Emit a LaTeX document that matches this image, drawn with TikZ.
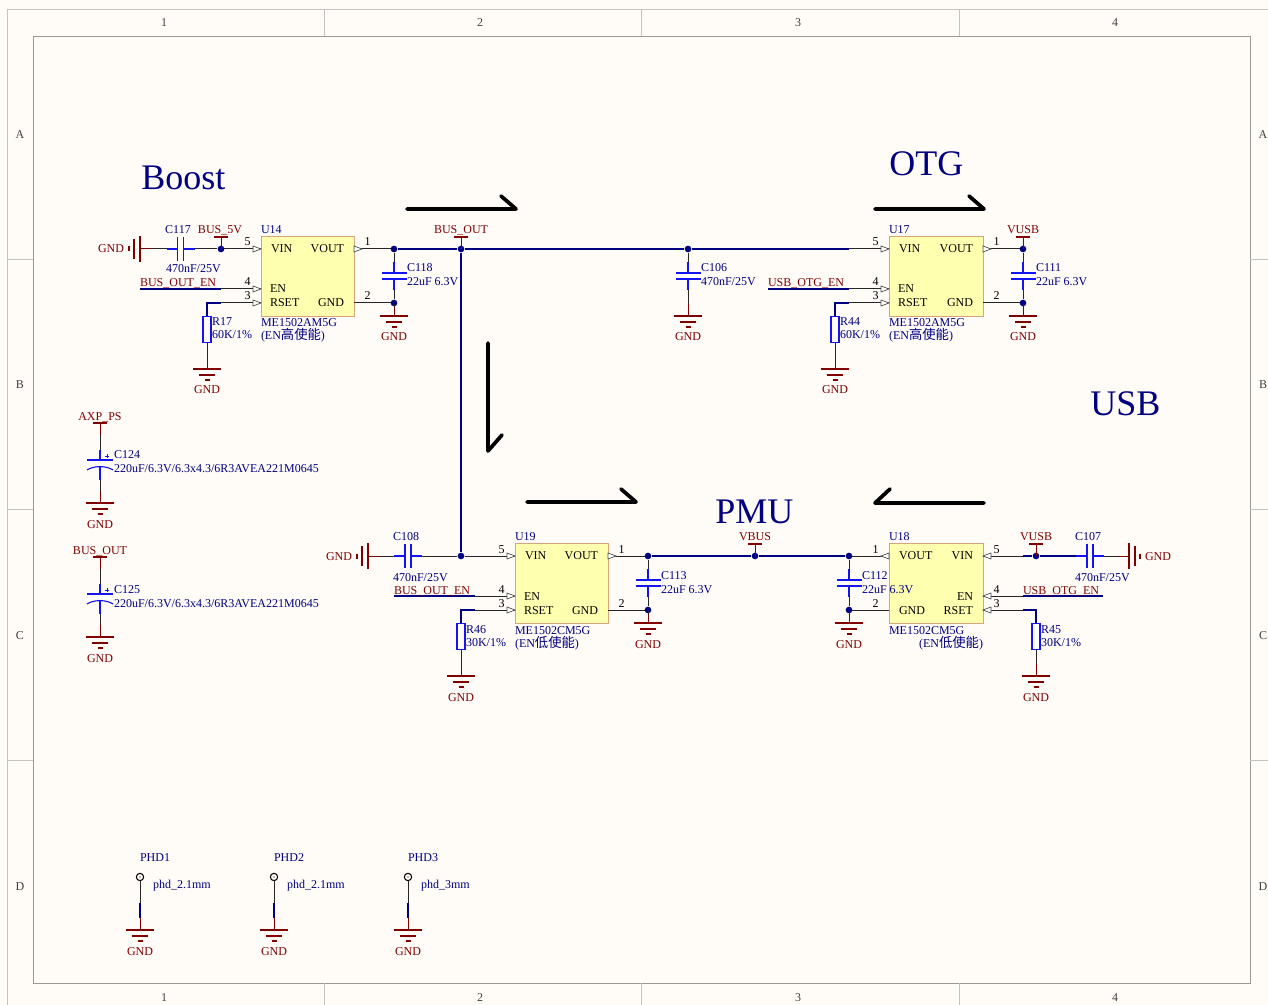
\documentclass[tikz,border=0pt]{standalone}
\usepackage{fontspec}
\setmainfont{Liberation Serif}
\newfontfamily\cjkfont{Noto Sans CJK SC}
\newcommand{\cjktext}[1]{{\fontsize{10pt}{10pt}\cjkfont #1}}
\definecolor{paper}{HTML}{FFFCF8}
\definecolor{navyw}{HTML}{000080}
\definecolor{darkr}{HTML}{800000}
\definecolor{partb}{HTML}{1414F0}
\definecolor{chipf}{HTML}{FFFFB0}
\definecolor{chipd}{HTML}{D8A47C}
\definecolor{framec}{HTML}{989894}
\definecolor{framel}{HTML}{C4C2BE}
\tikzset{
  txt/.style={inner sep=0pt,outer sep=0pt,font=\fontsize{9pt}{10pt}\selectfont},
  lab/.style={txt,anchor=base west},
  labc/.style={txt,anchor=base},
  labe/.style={txt,anchor=base east},
  ref/.style={text=navyw},
  net/.style={text=darkr},
  title/.style={inner sep=0pt,anchor=base west,text=navyw,font=\fontsize{27pt}{30pt}\selectfont},
  edge/.style={inner sep=0pt,anchor=base,text=black!75,font=\fontsize{9pt}{10pt}\selectfont},
  wn/.style={draw=navyw,line width=.85pt},
  wb/.style={draw=black!85,line width=.75pt},
  wr/.style={draw=darkr,line width=.75pt},
  pb/.style={draw=partb,line width=.85pt},
  jdot/.style={circle,fill=navyw,draw=none,inner sep=0pt,minimum size=5pt},
  chipbox/.style={rectangle,draw=chipd,fill=chipf,line width=.7pt,inner sep=0pt},
  resbox/.style={rectangle,draw=partb,line width=.85pt,inner sep=0pt,minimum width=6pt,minimum height=20pt},
  bigarrow/.style={draw=black,line width=2.8pt,line cap=round,line join=round},
  tri/.style={draw=black!70,fill=white,line width=.5pt}
}
% text label
\newcommand{\lbl}[5][lab]{\node[#1,#2] (#3) at #4 {#5};}
% chip pin: name, body x, y, number, side (-1 west, +1 east), triangle (1 in, -1 out, 0 none)
\newcommand{\chippin}[6]{%
  \coordinate (#1) at ({#2+40*(#5)},#3);
  \draw[wb] (#2,#3) -- (#1);
  \ifnum#6=1 \draw[tri] (#2,#3) -- ({#2+8*(#5)},{#3-3}) -- ({#2+8*(#5)},{#3+3}) -- cycle;\fi
  \ifnum#6=-1 \draw[tri] ({#2+8*(#5)},#3) -- (#2,{#3-3}) -- (#2,{#3+3}) -- cycle;\fi
  \node[edge,text=black] (#1-n) at ({#2+13.5*(#5)},{#3-3}) {#4};}
% vertical cap / horizontal cap
\newcommand{\capv}[3]{%
  \coordinate (#1-t) at (#2,{#3-14}); \coordinate (#1-b) at (#2,{#3+14});
  \draw[pb] (#1-t) -- (#2,{#3-3}) (#2,{#3+3}) -- (#1-b);
  \draw[pb] ({#2-12.5},{#3-3}) -- ({#2+12.5},{#3-3}) ({#2-12.5},{#3+3}) -- ({#2+12.5},{#3+3});}
\newcommand{\caph}[3]{%
  \coordinate (#1-l) at ({#2-14},#3); \coordinate (#1-r) at ({#2+14},#3);
  \draw[pb] (#1-l) -- ({#2-3},#3) ({#2+3},#3) -- (#1-r);
  \draw[pb] ({#2-3},{#3-12}) -- ({#2-3},{#3+12}) ({#2+3},{#3-12}) -- ({#2+3},{#3+12});}
% polarised cap: name, x, y of flat plate
\newcommand{\capp}[3]{%
  \coordinate (#1-t) at (#2,{#3-10}); \coordinate (#1-b) at (#2,{#3+20});
  \draw[pb] (#1-t) -- (#2,#3) (#2,{#3+6}) -- (#1-b);
  \draw[pb] ({#2-13},#3) -- ({#2+13},#3);
  \draw[pb] ({#2-13},{#3+10}) .. controls ({#2-6},{#3+5.5}) and ({#2+6},{#3+5.5}) .. ({#2+13},{#3+10});
  \draw[draw=partb,line width=.4pt] ({#2+5},{#3-4}) -- ({#2+9},{#3-4}) ({#2+7},{#3-6}) -- ({#2+7},{#3-2});}
% ground, vertical: name, x, y of big bar
\newcommand{\gndv}[3]{%
  \coordinate (#1) at (#2,{#3-12});
  \draw[wr] (#1) -- (#2,#3);
  \draw[wr,line width=.9pt] ({#2-14},#3) -- ({#2+14},#3) ({#2-8},{#3+6}) -- ({#2+8},{#3+6}) ({#2-2.5},{#3+11}) -- ({#2+2.5},{#3+11});
  \node[labc,net] (#1-l) at (#2,{#3+25}) {GND};}
% ground, horizontal: name, x of big bar, y, direction of the small bars
\newcommand{\gndh}[4]{%
  \coordinate (#1) at ({#2-12*(#4)},#3);
  \draw[wr] (#1) -- (#2,#3);
  \draw[wr,line width=.9pt] (#2,{#3-13}) -- (#2,{#3+13}) ({#2+6*(#4)},{#3-10}) -- ({#2+6*(#4)},{#3+10}) ({#2+11*(#4)},{#3-2.5}) -- ({#2+11*(#4)},{#3+2.5});}
% power port: name, x, y of bar
\newcommand{\portv}[3]{%
  \coordinate (#1) at (#2,{#3+12});
  \draw[wr] (#1) -- (#2,#3);
  \draw[wr,line width=.9pt] ({#2-7},#3) -- ({#2+7},#3);}
\begin{document}
\begin{tikzpicture}[x=.75pt,y=-.75pt]
\useasboundingbox (0,0) rectangle (1268,1005);
\fill[paper] (0,0) rectangle (1268,1005);
% sheet frame
\draw[framel,line width=.7pt] (7,1005) -- (7,9) -- (1268,9);
\draw[framec,line width=.7pt] (33,36) rectangle (1250,983);
\foreach \x in {324,641,959} {\draw[framel,line width=.7pt] (\x,9) -- (\x,36) (\x,983) -- (\x,1005);}
\foreach \y in {259,509,760} {\draw[framel,line width=.7pt] (7,\y) -- (33,\y) (1250,\y) -- (1268,\y);}
\foreach \x/\n in {164/1,480/2,798/3,1115/4} {
  \node[edge] (top\n) at (\x,27) {\n};
  \node[edge] (bot\n) at (\x,1001) {\n};}
\foreach \y/\n in {139/A,389/B,639/C,890/D} {
  \node[edge] (lft\n) at (20,\y) {\n};
  \node[edge] (rgt\n) at (1263,\y) {\n};}
% titles
\node[title] (tBoost) at (141,190) {Boost};
\node[title] (tOTG) at (889,176) {OTG};
\node[title] (tUSB) at (1090,416) {USB};
\node[title] (tPMU) at (715,523) {PMU};
% flow arrows
\draw[bigarrow] (407,209) -- (516,209) -- (501,196);
\draw[bigarrow] (875,209) -- (984,209) -- (969,196);
\draw[bigarrow] (488,343) -- (488,451) -- (502,435);
\draw[bigarrow] (527,502) -- (636,502) -- (621,489);
\draw[bigarrow] (984,503) -- (875,503) -- (890,489);
% chips
\node[chipbox,minimum width=69.75pt,minimum height=60pt] (U14) at (307.5,276) {};
\node[chipbox,minimum width=70.5pt,minimum height=60pt] (U17) at (936,276) {};
\node[chipbox,minimum width=69.75pt,minimum height=60pt] (U19) at (561.5,583) {};
\node[chipbox,minimum width=70.5pt,minimum height=60pt] (U18) at (936,583) {};
% pins
\chippin{u14vin}{261}{249}{5}{-1}{1}
\chippin{u14en}{261}{289}{4}{-1}{1}
\chippin{u14rs}{261}{303}{3}{-1}{1}
\chippin{u14out}{354}{249}{1}{1}{-1}
\chippin{u14gnd}{354}{303}{2}{1}{0}
\chippin{u17vin}{889}{249}{5}{-1}{1}
\chippin{u17en}{889}{289}{4}{-1}{1}
\chippin{u17rs}{889}{303}{3}{-1}{1}
\chippin{u17out}{983}{249}{1}{1}{-1}
\chippin{u17gnd}{983}{303}{2}{1}{0}
\chippin{u19vin}{515}{556}{5}{-1}{1}
\chippin{u19en}{515}{596}{4}{-1}{1}
\chippin{u19rs}{515}{610}{3}{-1}{1}
\chippin{u19out}{608}{556}{1}{1}{-1}
\chippin{u19gnd}{608}{610}{2}{1}{0}
\chippin{u18out}{889}{556}{1}{-1}{-1}
\chippin{u18gnd}{889}{610}{2}{-1}{0}
\chippin{u18vin}{983}{556}{5}{1}{1}
\chippin{u18en}{983}{596}{4}{1}{1}
\chippin{u18rs}{983}{610}{3}{1}{1}
% junctions
\foreach \n/\p in {j5v/{221,249},j1/{394,249},jbo/{461,249},j106/{688,249},jusb/{1023,249},j1g/{394,303},jug/{1023,303},
  j19/{461,556},j113/{648,556},jvb/{755,556},j112/{849,556},j113g/{648,610},j112g/{849,610},jvu/{1036,556}}
  {\node[jdot] (\n) at (\p) {};}
% parts
\caph{c117}{180.5}{249}
\capv{c118}{394}{276}
\capv{c106}{688}{276}
\capv{c111}{1023}{276}
\caph{c108}{408}{556}
\capv{c113}{648}{583}
\capv{c112}{849}{583}
\caph{c107}{1090}{556}
\capp{c124}{100}{460}
\capp{c125}{100}{594}
\node[resbox] (r17) at (207,329.5) {};
\node[resbox] (r44) at (835,329.5) {};
\node[resbox] (r46) at (461,636.5) {};
\node[resbox] (r45) at (1036,636.5) {};
% grounds
\gndh{g117}{140}{249}{-1}
\gndh{g108}{368}{556}{-1}
\gndh{g107}{1129}{556}{1}
\gndv{g118}{394}{316}
\gndv{g106}{688}{316}
\gndv{g111}{1023}{316}
\gndv{g17}{207}{369}
\gndv{g44}{835}{369}
\gndv{g113}{648}{623}
\gndv{g112}{849}{623}
\gndv{g46}{461}{676}
\gndv{g45}{1036}{676}
\gndv{g124}{100}{503}
\gndv{g125}{100}{637}
% ports
\portv{p5v}{221}{237}
\portv{pbo}{461}{237}
\portv{pvusb}{1023}{237}
\portv{pvbus}{755}{544}
\portv{pvu}{1036}{544}
\portv{paxp}{100}{423}
\portv{pbo2}{100}{557}
% free ends of the enable nets
\coordinate (enA) at (140,289);
\coordinate (enB) at (768,289);
\coordinate (enC) at (394,596);
\coordinate (enD) at (1103,596);
% wires
\draw[wb] (g117) -- (c117-l);
\draw[wb] (c117-r) -- (j5v);
\draw[wn] (enA) -- (u14en);
\draw[wn] (u14rs) -| (r17.north);
\draw[wb] (r17.south) -- (g17);
\draw[wn] (j1) -- (jbo);
\draw[wn] (jbo) -- (j106);
\draw[wn] (j106) -- (u17vin);
\draw[wn] (jbo) -- (j19);
\draw[wb] (j1) -- (c118-t);
\draw[wb] (c118-b) -- (j1g);
\draw[wb] (j1g) -- (g118);
\draw[wb] (j106) -- (c106-t);
\draw[wb] (c106-b) -- (g106);
\draw[wn] (enB) -- (u17en);
\draw[wn] (u17rs) -| (r44.north);
\draw[wb] (r44.south) -- (g44);
\draw[wb] (jusb) -- (c111-t);
\draw[wb] (c111-b) -- (jug);
\draw[wb] (jug) -- (g111);
\draw[wb] (g108) -- (c108-l);
\draw[wb] (c108-r) -- (j19);
\draw[wb] (j19) -- (u19vin);
\draw[wn] (enC) -- (u19en);
\draw[wn] (u19rs) -| (r46.north);
\draw[wb] (r46.south) -- (g46);
\draw[wn] (j113) -- (jvb);
\draw[wn] (jvb) -- (j112);
\draw[wb] (j113) -- (c113-t);
\draw[wb] (c113-b) -- (j113g);
\draw[wb] (j113g) -- (g113);
\draw[wb] (j112) -- (c112-t);
\draw[wb] (c112-b) -- (j112g);
\draw[wb] (j112g) -- (g112);
\draw[wn] (u18vin) -- (jvu);
\draw[wn] (jvu) -- (c107-l);
\draw[wb] (c107-r) -- (g107);
\draw[wn] (u18en) -- (enD);
\draw[wn] (u18rs) -| (r45.north);
\draw[wb] (r45.south) -- (g45);
\draw[wb] (paxp) -- (c124-t);
\draw[wb] (c124-b) -- (g124);
\draw[wb] (pbo2) -- (c125-t);
\draw[wb] (c125-b) -- (g125);
% chip pin names
\foreach \n/\ax/\x/\y/\s in {
  a/lab/271/253/VIN,b/labe/344/253/VOUT,c/lab/270/293/EN,d/lab/270/307/RSET,e/labe/344/307/GND,
  f/lab/899/253/VIN,g/labe/973/253/VOUT,h/lab/898/293/EN,i/lab/898/307/RSET,j/labe/973/307/GND,
  k/lab/525/560/VIN,l/labe/598/560/VOUT,m/lab/524/600/EN,n/lab/524/614/RSET,o/labe/598/614/GND,
  p/lab/899/560/VOUT,q/labe/973/560/VIN,r/lab/899/614/GND,s/labe/973/600/EN,t/labe/973/614/RSET}
  {\node[\ax,text=black] (pn\n) at (\x,\y) {\s};}
% designators and values
\lbl[lab]{ref}{tU14}{(261,234)}{U14}
\lbl[lab]{ref}{tU17}{(889,234)}{U17}
\lbl[lab]{ref}{tU19}{(515,541)}{U19}
\lbl[lab]{ref}{tU18}{(889,541)}{U18}
\lbl[lab]{ref}{vU14}{(261,327)}{ME1502AM5G}
\lbl[lab]{ref}{wU14}{(261,340)}{(EN\cjktext{高使能})}
\lbl[lab]{ref}{vU17}{(889,327)}{ME1502AM5G}
\lbl[lab]{ref}{wU17}{(889,340)}{(EN\cjktext{高使能})}
\lbl[lab]{ref}{vU19}{(515,634)}{ME1502CM5G}
\lbl[lab]{ref}{wU19}{(515,647)}{(EN\cjktext{低使能})}
\lbl[lab]{ref}{vU18}{(889,634)}{ME1502CM5G}
\lbl[labe]{ref}{wU18}{(983,647)}{(EN\cjktext{低使能})}
\lbl[labc]{ref}{tC117}{(178,234)}{C117}
\lbl[lab]{ref}{vC117}{(166,273)}{470nF/25V}
\lbl[lab]{ref}{tC118}{(407,272)}{C118}
\lbl[lab]{ref}{vC118}{(407,286)}{22uF 6.3V}
\lbl[lab]{ref}{tC106}{(701,272)}{C106}
\lbl[lab]{ref}{vC106}{(701,286)}{470nF/25V}
\lbl[lab]{ref}{tC111}{(1036,272)}{C111}
\lbl[lab]{ref}{vC111}{(1036,286)}{22uF 6.3V}
\lbl[labc]{ref}{tC108}{(406,541)}{C108}
\lbl[lab]{ref}{vC108}{(393,581)}{470nF/25V}
\lbl[lab]{ref}{tC113}{(661,579)}{C113}
\lbl[lab]{ref}{vC113}{(661,593)}{22uF 6.3V}
\lbl[lab]{ref}{tC112}{(862,580)}{C112}
\lbl[lab]{ref}{vC112}{(862,593)}{22uF 6.3V}
\lbl[labc]{ref}{tC107}{(1088,541)}{C107}
\lbl[lab]{ref}{vC107}{(1075,581)}{470nF/25V}
\lbl[lab]{ref}{tR17}{(212,326)}{R17}
\lbl[lab]{ref}{vR17}{(212,339)}{60K/1\%}
\lbl[lab]{ref}{tR44}{(840,326)}{R44}
\lbl[lab]{ref}{vR44}{(840,339)}{60K/1\%}
\lbl[lab]{ref}{tR46}{(466,633)}{R46}
\lbl[lab]{ref}{vR46}{(466,646)}{30K/1\%}
\lbl[lab]{ref}{tR45}{(1041,633)}{R45}
\lbl[lab]{ref}{vR45}{(1041,646)}{30K/1\%}
\lbl[lab]{ref}{tC124}{(114,459)}{C124}
\lbl[lab]{ref}{vC124}{(114,473)}{220uF/6.3V/6.3x4.3/6R3AVEA221M0645}
\lbl[lab]{ref}{tC125}{(114,593)}{C125}
\lbl[lab]{ref}{vC125}{(114,607)}{220uF/6.3V/6.3x4.3/6R3AVEA221M0645}
% net names
\lbl[labe]{net}{nG117}{(124,253)}{GND}
\lbl[labc]{net}{n5v}{(220,234)}{BUS\_5V}
\lbl[lab]{net}{nEnA}{(140,287)}{BUS\_OUT\_EN}
\lbl[labc]{net}{nBo}{(461,234)}{BUS\_OUT}
\lbl[labc]{net}{nVusb}{(1023,234)}{VUSB}
\lbl[lab]{net}{nEnB}{(768,287)}{USB\_OTG\_EN}
\lbl[labe]{net}{nG108}{(352,561)}{GND}
\lbl[lab]{net}{nEnC}{(394,594)}{BUS\_OUT\_EN}
\lbl[labc]{net}{nVbus}{(755,541)}{VBUS}
\lbl[labc]{net}{nVu}{(1036,541)}{VUSB}
\lbl[lab]{net}{nEnD}{(1023,594)}{USB\_OTG\_EN}
\lbl[lab]{net}{nG107}{(1145,561)}{GND}
\lbl[labc]{net}{nAxp}{(100,421)}{AXP\_PS}
\lbl[labc]{net}{nBo2}{(100,554)}{BUS\_OUT}
% mounting holes
\foreach \n/\x/\v in {1/140/phd\_2.1mm,2/274/phd\_2.1mm,3/408/phd\_3mm} {
  \node[circle,draw=black,line width=.8pt,inner sep=0pt,minimum size=5.5pt] (hole\n) at (\x,877) {};
  \fill[black] (\x,877) circle (.4pt);
  \gndv{gh\n}{\x}{930}
  \draw[wb] (hole\n) -- (\x,903);
  \draw[wn] (\x,903) -- (gh\n);
  \lbl[lab]{ref}{tP\n}{(\x,861)}{PHD\n}
  \node[lab,ref] (vP\n) at ({\x+13},888) {\v};
}
\end{tikzpicture}
\end{document}
